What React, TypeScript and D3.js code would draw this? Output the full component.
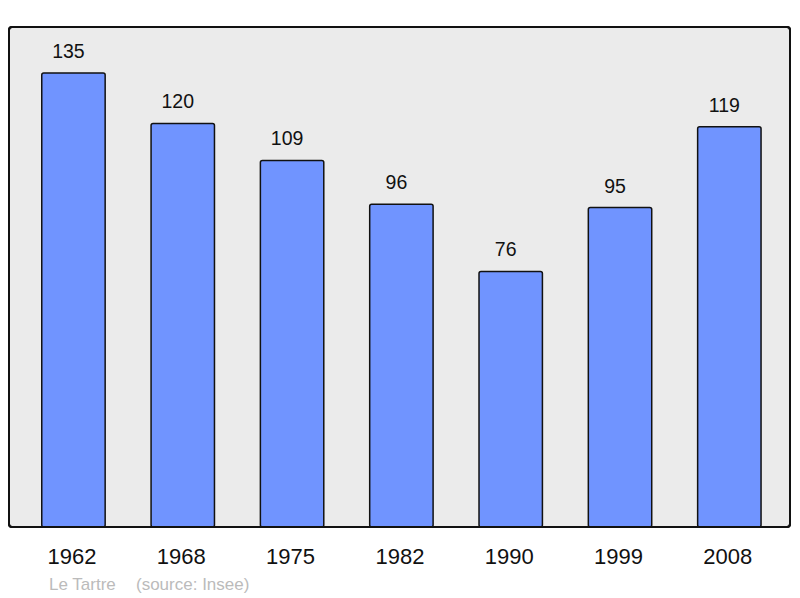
import React from "react";
import * as d3 from "d3";

const years = ["1962", "1968", "1975", "1982", "1990", "1999", "2008"];
const population = [135, 120, 109, 96, 76, 95, 119];
const commune = "Le Tartre";
const sourceText = "(source: Insee)";

export default function App() {
  const W = 800, H = 598;
  const frame = { x: 9, y: 27, w: 781, h: 500 };
  const x = d3.scaleBand<string>().domain(years).range([18.8, 784]).paddingInner(0.42).paddingOuter(0.21);
  const y = d3.scaleLinear().domain([0, 135]).range([527, 73]);
  const font = "'Liberation Sans', Arial, sans-serif";
  return (
    <svg width={W} height={H} style={{ position: "absolute", left: 0, top: 0 }} fontFamily={font}>
      <rect x={0} y={0} width={W} height={H} fill="#fff" />
      <rect x={frame.x} y={frame.y} width={frame.w} height={frame.h} rx={3} fill="#ebebeb" stroke="#111" strokeWidth={2} />
      {years.map((yr, i) => {
        const v = population[i];
        const bx = x(yr)!;
        const bw = x.bandwidth();
        return (
          <g key={yr}>
            <rect x={bx} y={y(v)} width={bw} height={y(0) - y(v)} rx={2} fill="#7094ff" stroke="#111" strokeWidth={1.5} />
            <text x={bx + bw / 2 - 5} y={y(v) - 15} textAnchor="middle" fontSize={19.5} fill="#111">{v}</text>
            <text x={bx + bw / 2 - 1.5} y={564} textAnchor="middle" fontSize={22} fill="#111">{yr}</text>
          </g>
        );
      })}
      <rect x={frame.x} y={frame.y} width={frame.w} height={frame.h} rx={3} fill="none" stroke="#111" strokeWidth={2} />
      <text x={49} y={590} fontSize={17} fill="#bbb">{commune}</text>
      <text x={136} y={590} fontSize={17} fill="#bbb">{sourceText}</text>
    </svg>
  );
}
